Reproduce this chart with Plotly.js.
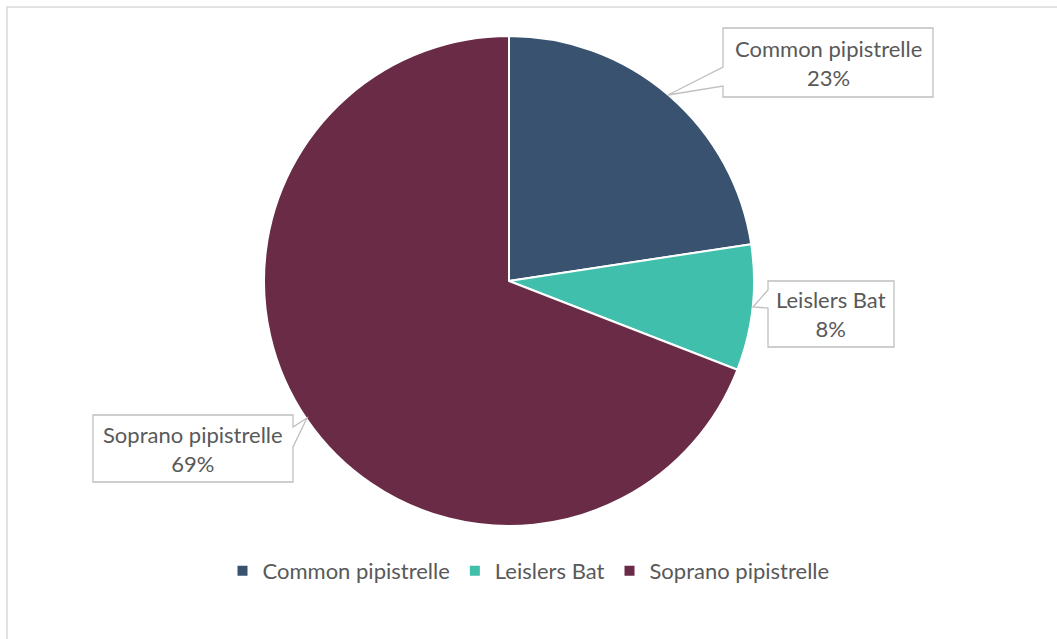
<!DOCTYPE html>
<html>
<head>
<meta charset="utf-8">
<script src="https://cdn.plot.ly/plotly-3.0.1.min.js"></script>
<style>html,body{margin:0;padding:0;background:#fff;}#chart{width:1057px;height:639px;}</style>
</head>
<body>
<div id="chart"></div>
<script>
const categories = ["Common pipistrelle", "Leislers Bat", "Soprano pipistrelle"];
const values = [22.6, 8.3, 69.1];
const colors = ["#38526f", "#40bfad", "#692b45"];

const W = 1057, H = 639;
const px = x => x / W;
const py = y => 1 - y / H;
function path(pts) {
  return "M " + pts.map(p => px(p[0]).toFixed(5) + "," + py(p[1]).toFixed(5)).join(" L ") + " Z";
}

const total = values.reduce((a, b) => a + b, 0);
const pct = values.map(v => Math.round(v / total * 100) + "%");

const callouts = [
  {pts: [[723,28],[933,28],[933,97],[723,97],[723,86],[668,95],[723,67]], cx: 828, cy: 63},
  {pts: [[768,281],[894,281],[894,347],[768,347],[768,308],[753,307],[768,290]], cx: 831, cy: 314},
  {pts: [[93,415],[293,415],[293,427],[307,418],[293,447],[293,482],[93,482]], cx: 193, cy: 449}
];

const shapes = [{
  type: "rect", xref: "paper", yref: "paper",
  x0: px(7), x1: px(1070), y0: py(650), y1: py(7),
  line: {color: "#d9d9d9", width: 1.5}, fillcolor: "rgba(0,0,0,0)", layer: "below"
}];
const annotations = [];
callouts.forEach((c, i) => {
  shapes.push({type: "path", xref: "paper", yref: "paper", path: path(c.pts),
    line: {color: "#bfbfbf", width: 1.3}, fillcolor: "#ffffff", layer: "above"});
  annotations.push({xref: "paper", yref: "paper", x: px(c.cx), y: py(c.cy),
    xanchor: "center", yanchor: "middle", showarrow: false, align: "center",
    text: categories[i] + "<br>" + pct[i],
    font: {family: "Lato, sans-serif", size: 22, color: "#595959"}});
});

const data = [{
  type: "pie",
  labels: categories,
  values: values,
  sort: false,
  direction: "clockwise",
  rotation: 0,
  textinfo: "none",
  hoverinfo: "label+percent",
  marker: {colors: colors, line: {color: "#ffffff", width: 2}},
  domain: {x: [px(264), px(754)], y: [py(526), py(36)]}
}];

const layout = {
  width: W, height: H,
  margin: {l: 0, r: 0, t: 0, b: 0},
  paper_bgcolor: "#ffffff",
  showlegend: true,
  legend: {orientation: "h", x: 0.5, xanchor: "center", y: py(571), yanchor: "middle",
    font: {family: "Lato, sans-serif", size: 22, color: "#595959"}, itemwidth: 30},
  shapes: shapes,
  annotations: annotations
};

Plotly.newPlot("chart", data, layout, {displayModeBar: false});
</script>
</body>
</html>
